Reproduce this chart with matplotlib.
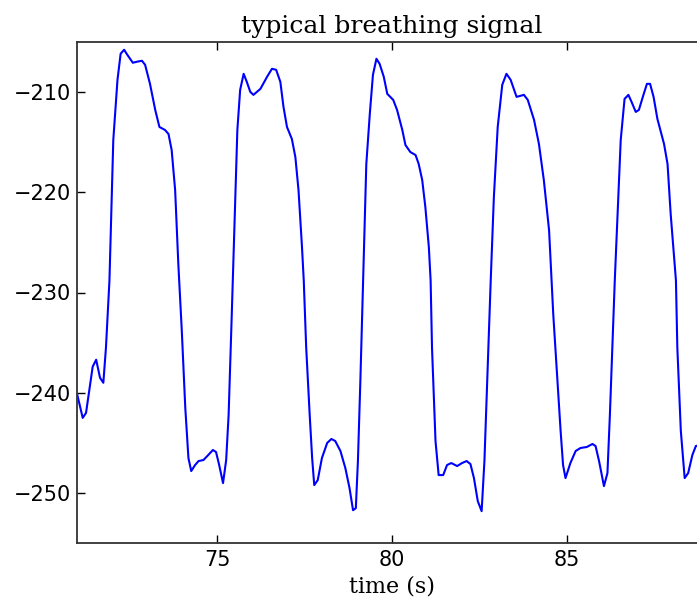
import matplotlib
matplotlib.use("Agg")
import matplotlib.pyplot as plt

time_s = [71.00, 71.155, 71.25, 71.44, 71.54, 71.65, 71.745, 71.82, 71.92, 72.03,
          72.15, 72.24, 72.34, 72.43, 72.59, 72.70, 72.85, 72.94, 73.08, 73.23,
          73.35, 73.51, 73.61, 73.70, 73.80, 73.89, 73.99, 74.09, 74.18, 74.26,
          74.37, 74.47, 74.61, 74.72, 74.88, 74.97, 75.06, 75.17, 75.26, 75.33,
          75.42, 75.52, 75.58, 75.66, 75.76, 75.85, 75.95, 76.04, 76.24, 76.43,
          76.57, 76.69, 76.81, 76.90, 77.00, 77.14, 77.24, 77.33, 77.43, 77.48,
          77.55, 77.65, 77.72, 77.78, 77.88, 78.00, 78.15, 78.27, 78.38, 78.53,
          78.67, 78.79, 78.89, 78.97, 79.03, 79.10, 79.18, 79.27, 79.37, 79.46,
          79.56, 79.65, 79.77, 79.87, 80.04, 80.15, 80.30, 80.39, 80.53, 80.68,
          80.77, 80.87, 80.96, 81.06, 81.11, 81.15, 81.25, 81.34, 81.47, 81.58,
          81.70, 81.87, 82.01, 82.14, 82.25, 82.35, 82.46, 82.57, 82.65, 82.73,
          82.83, 82.92, 83.03, 83.16, 83.28, 83.40, 83.57, 83.78, 83.89, 84.07,
          84.21, 84.35, 84.50, 84.57, 84.62, 84.74, 84.83, 84.90, 84.97, 85.11,
          85.26, 85.40, 85.58, 85.74, 85.83, 85.93, 86.07, 86.17, 86.24, 86.31,
          86.38, 86.46, 86.55, 86.66, 86.77, 86.86, 86.98, 87.07, 87.20, 87.30,
          87.39, 87.49, 87.60, 87.79, 87.89, 87.98, 88.13, 88.17, 88.27, 88.38,
          88.48, 88.60, 88.70, 88.84]

signal = [-240.2, -242.5, -242.0, -237.4, -236.7, -238.5, -239.0, -235.5, -228.8, -214.8,
          -208.8, -206.2, -205.8, -206.3, -207.1, -207.0, -206.9, -207.3, -209.2, -211.8,
          -213.5, -213.8, -214.2, -215.8, -219.8, -227.1, -233.8, -241.5, -246.5, -247.8,
          -247.2, -246.8, -246.7, -246.3, -245.7, -245.9, -247.2, -249.0, -246.7, -242.2,
          -232.2, -220.5, -213.8, -209.8, -208.2, -209.0, -210.0, -210.3, -209.7, -208.5,
          -207.7, -207.8, -209.0, -211.5, -213.5, -214.7, -216.5, -219.8, -225.5, -228.8,
          -235.5, -242.2, -246.5, -249.2, -248.7, -246.5, -245.0, -244.6, -244.8, -245.8,
          -247.5, -249.5, -251.7, -251.5, -246.8, -238.8, -228.8, -217.2, -212.2, -208.3,
          -206.7, -207.2, -208.5, -210.2, -210.8, -211.8, -213.8, -215.3, -216.0, -216.3,
          -217.2, -218.8, -221.5, -225.5, -228.8, -235.5, -244.8, -248.2, -248.2, -247.2,
          -247.0, -247.3, -247.0, -246.8, -247.1, -248.5, -250.8, -251.8, -246.8, -238.8,
          -228.8, -220.5, -213.5, -209.3, -208.2, -208.8, -210.5, -210.3, -210.8, -212.8,
          -215.2, -218.8, -223.8, -228.8, -232.2, -238.8, -243.8, -247.2, -248.5, -247.0,
          -245.8, -245.5, -245.4, -245.1, -245.3, -246.8, -249.3, -248.0, -242.2, -235.5,
          -228.8, -222.2, -214.8, -210.7, -210.3, -211.0, -212.0, -211.8, -210.3, -209.2,
          -209.2, -210.5, -212.7, -215.2, -217.2, -222.2, -228.8, -235.5, -243.8, -248.5,
          -248.0, -246.2, -245.3, -245.2]

x_ticks = [75, 80, 85]
y_ticks = [-250, -240, -230, -220, -210]
title_text = "typical breathing signal"
xlabel_text = "time (s)"

fig = plt.figure(figsize=(6.97, 6.0), dpi=100)
ax = fig.add_axes([0.1109, 0.0945, 0.9025, 0.836])
ax.plot(time_s, signal, color="#0000ff", lw=1.5)
ax.set_xlim(71, 89)
ax.set_ylim(-255, -205)
ax.set_xticks(x_ticks)
ax.set_yticks(y_ticks)
ax.tick_params(direction="in", top=True, right=True, length=5.5, width=1,
               labelsize=15, pad=4.5)
for s in ax.spines.values():
    s.set_linewidth(1.3)
    s.set_color("#333333")
ax.set_title(title_text, fontfamily="DejaVu Serif", fontsize=18, pad=6)
ax.set_xlabel(xlabel_text, fontfamily="DejaVu Serif", fontsize=16, labelpad=4)
fig.savefig("out.png", dpi=100)
